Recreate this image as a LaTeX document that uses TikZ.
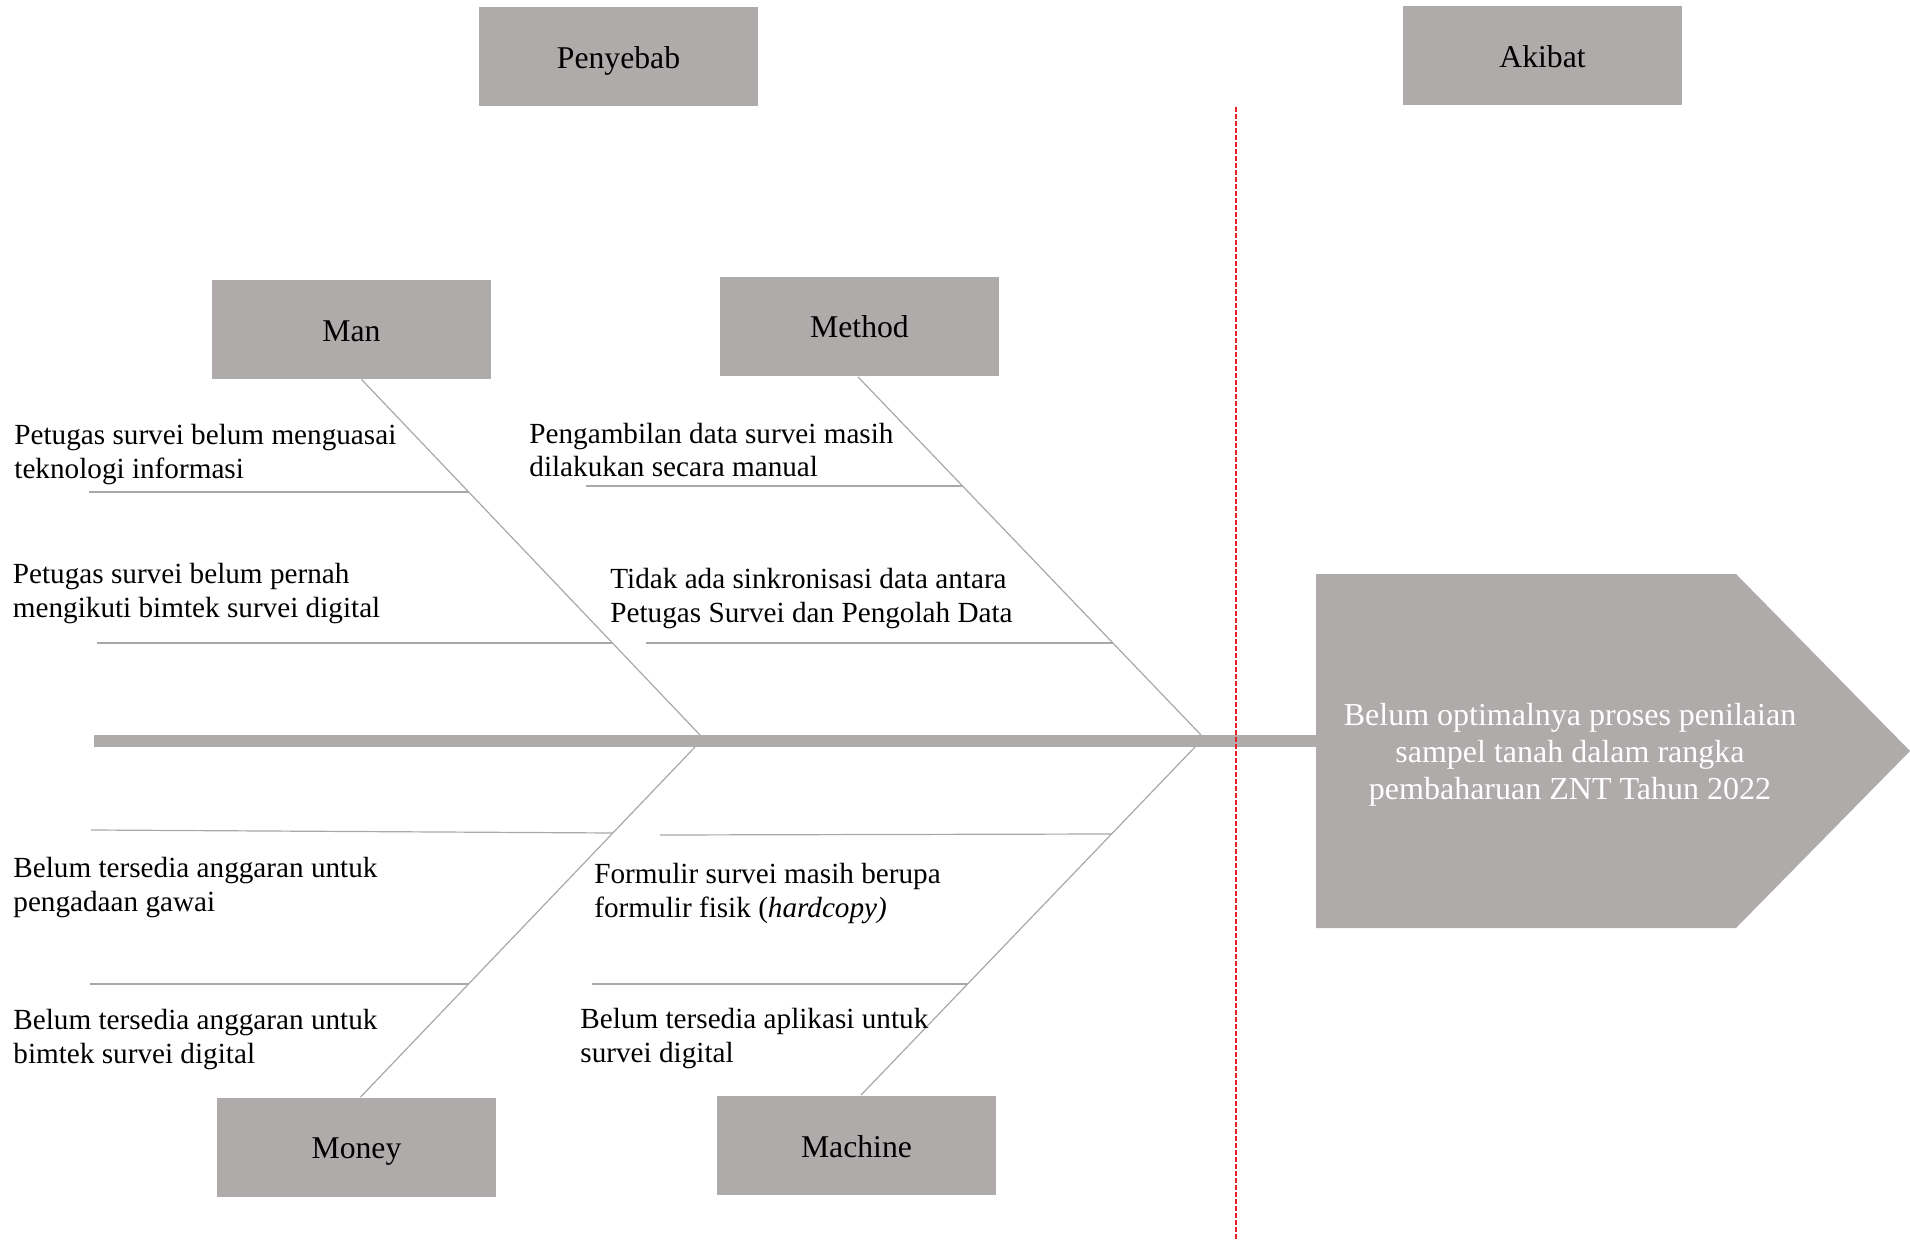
\documentclass[tikz,border=0pt]{standalone}
\usepackage{fontspec}
\setmainfont{Liberation Serif}
\definecolor{boxgray}{RGB}{174,171,170}
\definecolor{bonegray}{RGB}{168,168,168}
\definecolor{dashred}{RGB}{232,30,40}
\tikzset{
  catbox/.style={fill=boxgray, draw=none, minimum width=139.5pt, minimum height=49.5pt, inner sep=0pt},
  catlabel/.style={anchor=base, inner sep=0pt, font=\fontsize{15.85}{18}\selectfont},
  cause/.style={anchor=base west, align=left, inner sep=0pt, font=\fontsize{14.6}{17}\selectfont},
  bone/.style={draw=bonegray, line width=0.6pt},
  rib/.style={draw=bonegray, line width=0.6pt},
  spine/.style={draw=boxgray, line width=6pt},
}
\begin{document}
\begin{tikzpicture}[x=0.5pt, y=-0.5pt]
\useasboundingbox (0,0) rectangle (1910,1240);
% header boxes
\node[catbox] (peny) at (618.5,56.5) {};
\node[catlabel] (penyt) at (618.5,69) {Penyebab};
\node[catbox] (akib) at (1542.5,55.5) {};
\node[catlabel] (akibt) at (1542.5,68) {Akibat};
% category boxes
\node[catbox] (man) at (351.5,329.5) {};
\node[catlabel] (mant) at (351.5,341.5) {Man};
\node[catbox] (method) at (859.5,327) {};
\node[catlabel] (methodt) at (859.5,338) {Method};
\node[catbox] (money) at (356.5,1147) {};
\node[catlabel] (moneyt) at (356.5,1158.5) {Money};
\node[catbox] (machine) at (856.5,1145) {};
\node[catlabel] (machinet) at (856.5,1157) {Machine};
% effect pentagon
\fill[boxgray] (1316,574) -- (1736,574) -- (1910,751) -- (1736,928) -- (1316,928) -- cycle;
\coordinate (head) at (1316,741);
\node[anchor=base, align=center, inner sep=0pt, text=white, font=\fontsize{16}{18.35}\selectfont] (effect) at (1570,799.3)
  {Belum optimalnya proses penilaian\\sampel tanah dalam rangka\\pembaharuan ZNT Tahun 2022};
% spine
\coordinate (tail) at (94,741);
\draw[spine] (tail) -- (head);
% junctions on spine
\coordinate (manJ) at (700,735);
\coordinate (methodJ) at (1201,735);
\coordinate (moneyJ) at (695,747);
\coordinate (machineJ) at (1195,747);
% bones
\draw[bone] ([xshift=5pt]man.south) -- (manJ);
\draw[bone] ([xshift=-0.75pt]method.south) -- (methodJ);
\draw[bone] (moneyJ) -- ([xshift=2pt]money.north);
\draw[bone] (machineJ) -- ([xshift=2.25pt]machine.north);
% ribs
\coordinate (r1a) at (89,492);   \coordinate (r1b) at (468,492);
\coordinate (r2a) at (97,643);   \coordinate (r2b) at (612,643);
\coordinate (r3a) at (586,486);  \coordinate (r3b) at (962,486);
\coordinate (r4a) at (646,643);  \coordinate (r4b) at (1113,643);
\coordinate (r5a) at (91,830);   \coordinate (r5b) at (613,833);
\coordinate (r6a) at (90,984);   \coordinate (r6b) at (469,984);
\coordinate (r7a) at (660,835);  \coordinate (r7b) at (1111,834);
\coordinate (r8a) at (592,984);  \coordinate (r8b) at (968,984);
\foreach \r in {1,...,8} {\draw[rib] (r\r a) -- (r\r b);}
% cause texts (anchor = baseline of the last line)
\node[cause] (c1) at (14,479) {Petugas survei belum menguasai\\teknologi informasi};
\node[cause] (c2) at (12.5,617) {Petugas survei belum pernah\\mengikuti bimtek survei digital};
\node[cause] (c3) at (529,477) {Pengambilan data survei masih\\dilakukan secara manual};
\node[cause] (c4) at (610,622) {Tidak ada sinkronisasi data antara\\Petugas Survei dan Pengolah Data};
\node[cause] (c5) at (13,911) {Belum tersedia anggaran untuk\\pengadaan gawai};
\node[cause] (c6) at (13,1063) {Belum tersedia anggaran untuk\\bimtek survei digital};
\node[cause] (c7) at (594,917) {Formulir survei masih berupa\\formulir fisik (\textit{hardcopy)}};
\node[cause] (c8) at (580,1062) {Belum tersedia aplikasi untuk\\survei digital};
% divider
\coordinate (divT) at (1235.5,107);
\coordinate (divB) at (1235.5,1240);
\draw[dashred, line width=1pt, dash pattern=on 2.5pt off 1pt] (divT) -- (divB);
\end{tikzpicture}
\end{document}
